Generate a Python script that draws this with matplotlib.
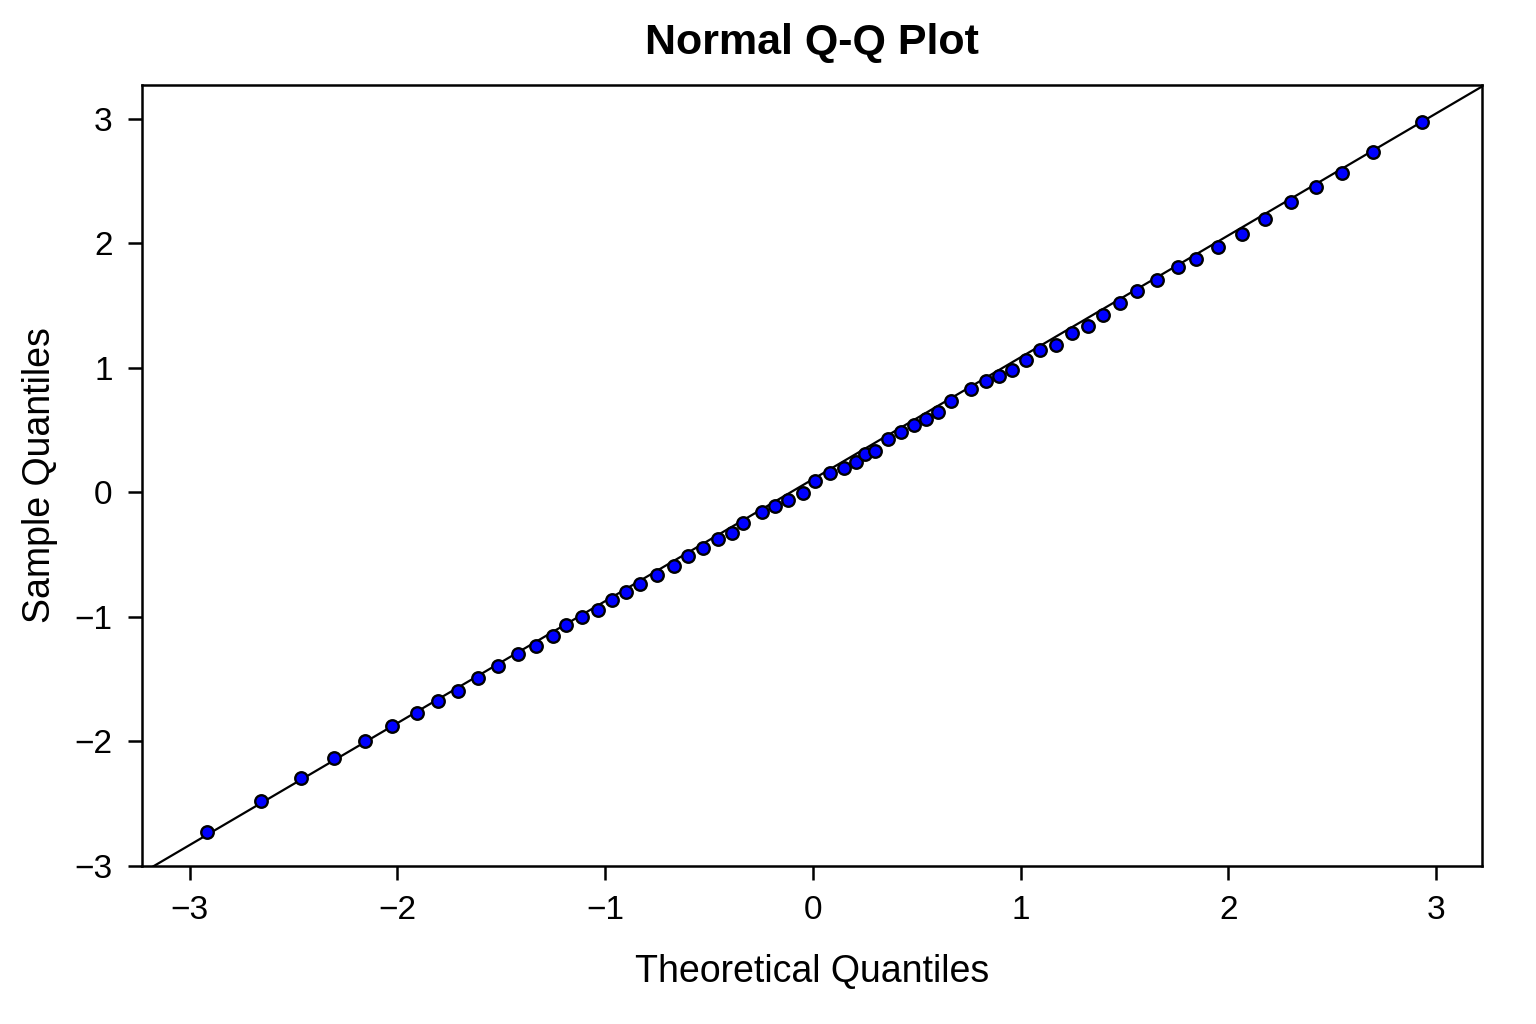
import matplotlib
matplotlib.use("Agg")
from matplotlib import pyplot as plt

# theoretical quantiles (x) and sample quantiles (y)
theoretical = [-2.914, -2.658, -2.464, -2.303, -2.155, -2.026, -1.907, -1.803, -1.707, -1.612,
               -1.515, -1.419, -1.331, -1.252, -1.188, -1.110, -1.035, -0.969, -0.901, -0.834,
               -0.749, -0.669, -0.599, -0.531, -0.458, -0.387, -0.334, -0.246, -0.182, -0.120,
               -0.048, 0.012, 0.080, 0.148, 0.207, 0.252, 0.300, 0.361, 0.424, 0.486,
               0.545, 0.601, 0.667, 0.761, 0.832, 0.897, 0.957, 1.024, 1.091, 1.171,
               1.248, 1.324, 1.397, 1.479, 1.561, 1.657, 1.758, 1.842, 1.952, 2.066,
               2.177, 2.299, 2.422, 2.547, 2.696, 2.930]
sample = [-2.730, -2.478, -2.295, -2.137, -2.000, -1.880, -1.768, -1.672, -1.592, -1.489,
          -1.393, -1.298, -1.236, -1.154, -1.069, -1.003, -0.941, -0.864, -0.804, -0.734,
          -0.660, -0.591, -0.514, -0.448, -0.373, -0.325, -0.249, -0.156, -0.110, -0.062,
          -0.008, 0.090, 0.157, 0.199, 0.245, 0.311, 0.335, 0.425, 0.486, 0.542,
          0.585, 0.643, 0.731, 0.832, 0.891, 0.931, 0.979, 1.061, 1.143, 1.180,
          1.281, 1.337, 1.425, 1.521, 1.614, 1.705, 1.811, 1.877, 1.968, 2.076,
          2.198, 2.328, 2.448, 2.565, 2.729, 2.976]

# reference line read from its end points
line_x = [-3.23, 3.22]
slope = 0.979
intercept = 0.105

ticks = [-3, -2, -1, 0, 1, 2, 3]
tick_labels = ['\u22123', '\u22122', '\u22121', '0', '1', '2', '3']

plt.rcParams['font.family'] = ['Liberation Sans', 'DejaVu Sans']

fig = plt.figure(figsize=(15.36, 10.24), dpi=100)
ax = fig.add_axes([0.0923, 0.1543, 0.8725, 0.7627])

ax.plot(line_x, [slope * v + intercept for v in line_x], color='black', lw=1.6, zorder=2)
ax.plot(theoretical, sample, 'o', markersize=9, markerfacecolor='#0000ff',
        markeredgecolor='black', markeredgewidth=1.7, zorder=3)

ax.set_xlim(-3.23, 3.22)
ax.set_ylim(-3.0, 3.27)
ax.set_xticks(ticks)
ax.set_yticks(ticks)
ax.set_xticklabels(tick_labels)
ax.set_yticklabels(tick_labels)

for sp in ax.spines.values():
    sp.set_linewidth(1.8)
ax.tick_params(direction='out', length=10, width=1.8, labelsize=24)
ax.tick_params(axis='x', pad=11)
ax.tick_params(axis='y', pad=11)

ax.set_title('Normal Q-Q Plot', fontsize=31, fontweight='bold', pad=22)
ax.set_xlabel('Theoretical Quantiles', fontsize=27, labelpad=20)
ax.set_ylabel('Sample Quantiles', fontsize=27, labelpad=12)

fig.savefig('out.png', dpi=100, facecolor='white')
